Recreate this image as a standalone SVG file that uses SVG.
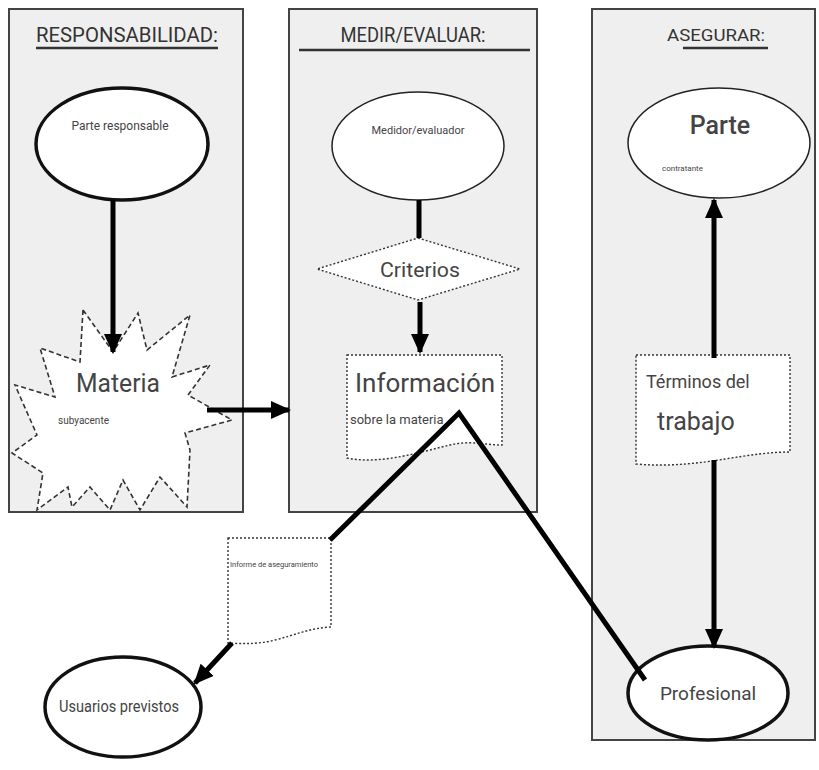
<svg xmlns="http://www.w3.org/2000/svg" width="819" height="770" viewBox="0 0 819 770">
<style>
.panel{fill:#efefef;stroke:#444;stroke-width:2}
.title{font-family:"Roboto","Liberation Sans",Arial,sans-serif;fill:#333}
.ul{stroke:#333;stroke-width:2.5}
.t{font-family:"Roboto","Liberation Sans",Arial,sans-serif;fill:#444}
.thick{fill:#fff;stroke:#111;stroke-width:3.5}
.thin{fill:#fff;stroke:#222;stroke-width:1.5}
.dash{fill:#fff;stroke:#333;stroke-width:1.6;stroke-dasharray:5 3}
.dot{fill:#fff;stroke:#333;stroke-width:1.4;stroke-dasharray:2 2}
.con{stroke:#000;stroke-width:5;fill:none}
</style>
<defs>
<marker id="ah" markerUnits="userSpaceOnUse" markerWidth="20" markerHeight="18" refX="18" refY="9" orient="auto">
<path d="M0,0 L20,9 L0,18 Z" fill="#000"/>
</marker>
</defs>
<rect width="819" height="770" fill="#fff"/>
<g id="panel-responsabilidad">
<rect class="panel" x="9" y="9" width="234" height="503"/>
<text class="title" x="127" y="42" font-size="20" text-anchor="middle" textLength="182" lengthAdjust="spacingAndGlyphs">RESPONSABILIDAD:</text>
<line class="ul" x1="36" y1="48" x2="218" y2="48"/>
</g>
<g id="panel-medir">
<rect class="panel" x="289" y="9" width="248" height="503"/>
<text class="title" x="413" y="42" font-size="20" text-anchor="middle" textLength="145" lengthAdjust="spacingAndGlyphs">MEDIR/EVALUAR:</text>
<line class="ul" x1="299" y1="50" x2="530" y2="50"/>
</g>
<g id="panel-asegurar">
<rect class="panel" x="592" y="9" width="223" height="731"/>
<text class="title" x="716" y="41" font-size="17" text-anchor="middle" fill="#555" textLength="98" lengthAdjust="spacingAndGlyphs">ASEGURAR:</text>
<line class="ul" x1="683" y1="48" x2="768" y2="48"/>
</g>
<g id="parte-responsable">
<ellipse class="thick" cx="122" cy="144" rx="86" ry="56"/>
<text class="t" x="120" y="130" font-size="12" text-anchor="middle">Parte responsable</text>
</g>
<g id="materia">
<polygon class="dash" points="83,310 113,352 138,313 147,350 190,315 172,377 210,365 188,395 232,420 185,433 190,450 187,507 160,477 140,510 123,480 110,510 90,487 72,507 68,487 37,510 43,473 12,453 37,435 15,385 55,397 40,348 80,362"/>
<text class="t" x="118" y="392" font-size="25" text-anchor="middle" textLength="84" lengthAdjust="spacingAndGlyphs">Materia</text>
<text class="t" x="58" y="424" font-size="10" fill="#666">subyacente</text>
</g>
<g id="medidor">
<ellipse class="thin" cx="418" cy="146" rx="86" ry="54"/>
<text class="t" x="418" y="134" font-size="11" text-anchor="middle">Medidor/evaluador</text>
</g>
<g id="criterios">
<polygon class="dot" points="418,238 520,269 418,300 317,269"/>
<text class="t" x="420" y="277" font-size="20" text-anchor="middle" textLength="80" lengthAdjust="spacingAndGlyphs">Criterios</text>
</g>
<g id="informacion">
<path class="dot" d="M347,355 H502 V445 C485,445 470,440 450,445 C420,452 380,465 347,458 Z"/>
<text class="t" x="355" y="392" font-size="26">Información</text>
<text class="t" x="350" y="424" font-size="13">sobre la materia</text>
</g>
<g id="informe">
<path class="dot" d="M228,538 H331 V627 C310,628 295,635 275,640 C260,644 245,644 228,643 Z"/>
<text class="t" x="230" y="567" font-size="7.5" fill="#555">Informe de aseguramiento</text>
</g>
<g id="usuarios">
<ellipse class="thick" cx="123" cy="707" rx="78" ry="50"/>
<text class="t" x="119" y="712" font-size="16" text-anchor="middle" textLength="120" lengthAdjust="spacingAndGlyphs">Usuarios previstos</text>
</g>
<g id="parte-contratante">
<ellipse class="thin" cx="719" cy="143" rx="91" ry="55"/>
<text class="t" x="720" y="134" font-size="25" font-weight="500" text-anchor="middle">Parte</text>
<text class="t" x="662" y="171" font-size="8" fill="#666">contratante</text>
</g>
<g id="terminos">
<path class="dot" d="M636,355 H790 V452 C770,452 750,455 725,459 C700,463 670,467 636,464 Z"/>
<text class="t" x="646" y="388" font-size="18">Términos del</text>
<text class="t" x="657" y="430" font-size="25">trabajo</text>
</g>
<g id="profesional">
<ellipse class="thick" cx="708" cy="693" rx="80" ry="47"/>
<text class="t" x="708" y="700" font-size="19" text-anchor="middle">Profesional</text>
</g>
<g id="connectors">
<line class="con" x1="113" y1="200" x2="113" y2="352" marker-end="url(#ah)"/>
<line class="con" x1="207" y1="410" x2="289" y2="410" marker-end="url(#ah)"/>
<line class="con" x1="419" y1="200" x2="419" y2="238"/>
<line class="con" x1="420" y1="302" x2="420" y2="352" marker-end="url(#ah)"/>
<polyline class="con" points="330,540 459,413 645,680"/>
<line class="con" x1="232" y1="643" x2="195" y2="683" marker-end="url(#ah)"/>
<line class="con" x1="714" y1="358" x2="714" y2="200" marker-end="url(#ah)"/>
<line class="con" x1="714" y1="460" x2="714" y2="647" marker-end="url(#ah)"/>
</g>
</svg>
